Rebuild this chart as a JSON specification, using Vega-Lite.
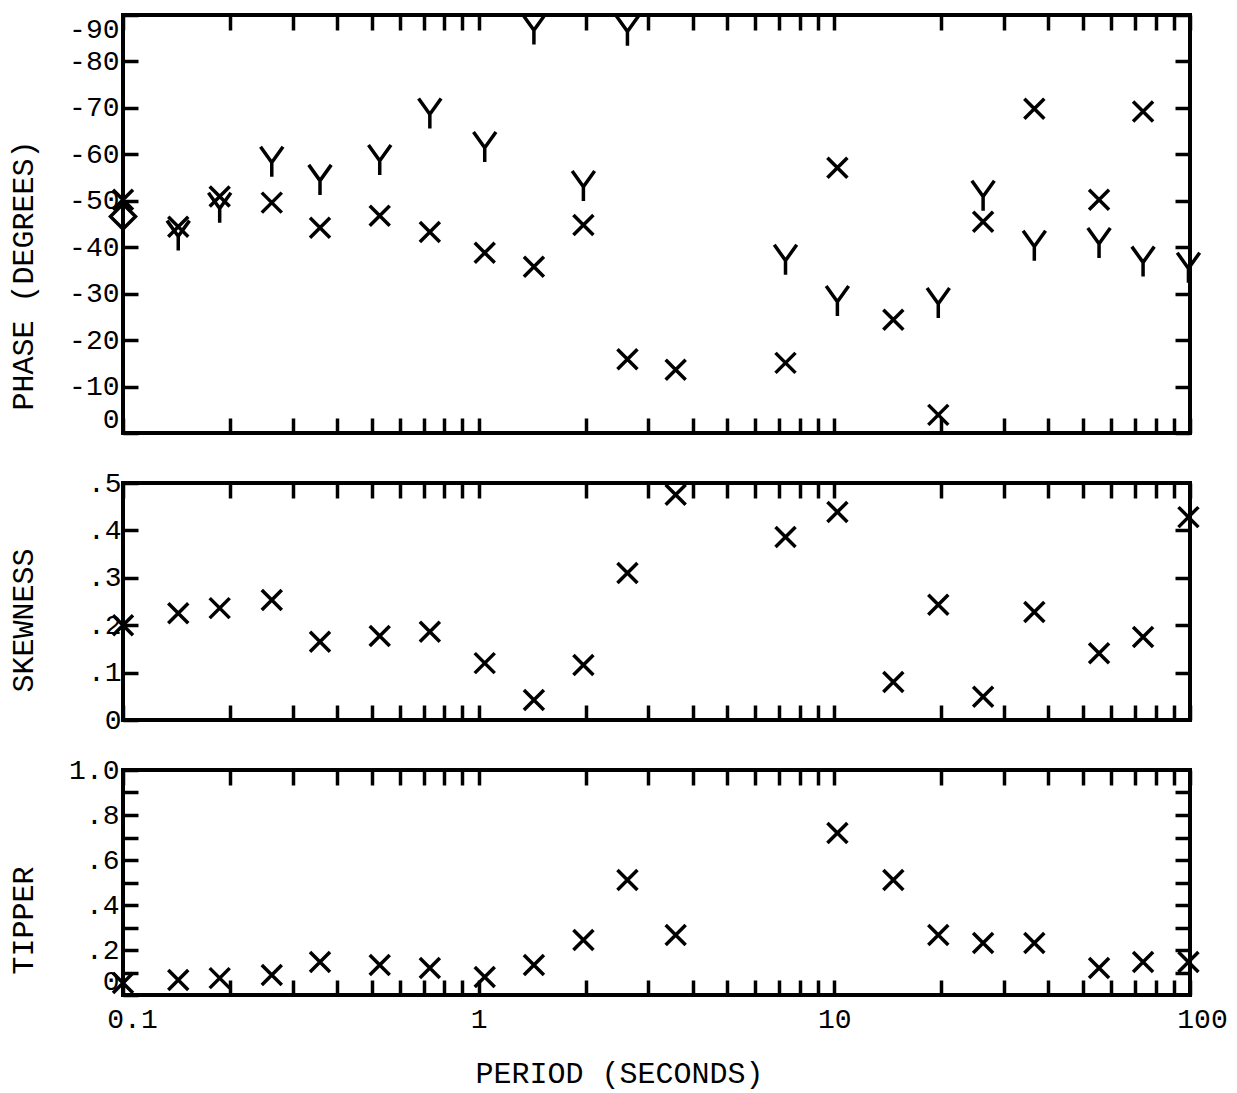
{
  "$schema": "https://vega.github.io/schema/vega-lite/v6.json",
  "background": "white",
  "padding": {"left": 5, "top": 5, "right": 5, "bottom": 5},
  "bounds": "flush",
  "spacing": 50,
  "config": {
    "view": {"stroke": "black", "strokeWidth": 4},
    "axis": {
      "domain": false, "grid": false,
      "tickColor": "black", "tickWidth": 3.5, "tickSize": -15,
      "labelFont": "Liberation Mono", "labelFontSize": 28, "labelColor": "black",
      "titleFont": "Liberation Mono", "titleFontSize": 30, "titleFontWeight": "normal", "titleColor": "black"
    }
  },
  "datasets": {
    "phase": [
      {"period": 0.1, "phase": -50.2, "comp": "X"},
      {"period": 0.143, "phase": -44.4, "comp": "X"},
      {"period": 0.187, "phase": -50.9, "comp": "X"},
      {"period": 0.262, "phase": -49.6, "comp": "X"},
      {"period": 0.358, "phase": -44.2, "comp": "X"},
      {"period": 0.527, "phase": -46.8, "comp": "X"},
      {"period": 0.729, "phase": -43.3, "comp": "X"},
      {"period": 1.04, "phase": -38.8, "comp": "X"},
      {"period": 1.43, "phase": -35.8, "comp": "X"},
      {"period": 1.97, "phase": -44.8, "comp": "X"},
      {"period": 2.62, "phase": -15.9, "comp": "X"},
      {"period": 3.58, "phase": -13.6, "comp": "X"},
      {"period": 7.29, "phase": -15.1, "comp": "X"},
      {"period": 10.2, "phase": -57.1, "comp": "X"},
      {"period": 14.65, "phase": -24.4, "comp": "X"},
      {"period": 19.6, "phase": -3.9, "comp": "X"},
      {"period": 26.2, "phase": -45.5, "comp": "X"},
      {"period": 36.5, "phase": -69.8, "comp": "X"},
      {"period": 55.5, "phase": -50.2, "comp": "X"},
      {"period": 73.8, "phase": -69.2, "comp": "X"},
      {"period": 0.143, "phase": -42.5, "comp": "Y"},
      {"period": 0.187, "phase": -48.5, "comp": "Y"},
      {"period": 0.262, "phase": -58.4, "comp": "Y"},
      {"period": 0.358, "phase": -54.5, "comp": "Y"},
      {"period": 0.527, "phase": -58.8, "comp": "Y"},
      {"period": 0.729, "phase": -68.8, "comp": "Y"},
      {"period": 1.04, "phase": -61.6, "comp": "Y"},
      {"period": 1.43, "phase": -86.9, "comp": "Y"},
      {"period": 1.97, "phase": -53.2, "comp": "Y"},
      {"period": 2.62, "phase": -86.6, "comp": "Y"},
      {"period": 7.29, "phase": -37.3, "comp": "Y"},
      {"period": 10.2, "phase": -28.4, "comp": "Y"},
      {"period": 19.6, "phase": -28.0, "comp": "Y"},
      {"period": 26.2, "phase": -51.1, "comp": "Y"},
      {"period": 36.5, "phase": -40.3, "comp": "Y"},
      {"period": 55.5, "phase": -40.9, "comp": "Y"},
      {"period": 73.8, "phase": -36.9, "comp": "Y"},
      {"period": 99, "phase": -35.6, "comp": "Y"},
      {"period": 0.1, "phase": -46.6, "comp": "D"}
    ],
    "skew": [
      {"period": 0.1, "skewness": 0.2},
      {"period": 0.143, "skewness": 0.225},
      {"period": 0.187, "skewness": 0.236},
      {"period": 0.262, "skewness": 0.253},
      {"period": 0.358, "skewness": 0.165},
      {"period": 0.527, "skewness": 0.177},
      {"period": 0.729, "skewness": 0.186},
      {"period": 1.04, "skewness": 0.12},
      {"period": 1.43, "skewness": 0.042},
      {"period": 1.97, "skewness": 0.116},
      {"period": 2.62, "skewness": 0.31},
      {"period": 3.58, "skewness": 0.475},
      {"period": 7.29, "skewness": 0.386},
      {"period": 10.2, "skewness": 0.439},
      {"period": 14.65, "skewness": 0.08},
      {"period": 19.6, "skewness": 0.243},
      {"period": 26.2, "skewness": 0.049},
      {"period": 36.5, "skewness": 0.228},
      {"period": 55.5, "skewness": 0.141},
      {"period": 73.8, "skewness": 0.175},
      {"period": 99, "skewness": 0.428}
    ],
    "tipper": [
      {"period": 0.1, "tipper": 0.053},
      {"period": 0.143, "tipper": 0.067},
      {"period": 0.187, "tipper": 0.075},
      {"period": 0.262, "tipper": 0.089},
      {"period": 0.358, "tipper": 0.147},
      {"period": 0.527, "tipper": 0.133},
      {"period": 0.729, "tipper": 0.12},
      {"period": 1.04, "tipper": 0.08},
      {"period": 1.43, "tipper": 0.133},
      {"period": 1.97, "tipper": 0.244},
      {"period": 2.62, "tipper": 0.511},
      {"period": 3.58, "tipper": 0.267},
      {"period": 10.2, "tipper": 0.72},
      {"period": 14.65, "tipper": 0.511},
      {"period": 19.6, "tipper": 0.267},
      {"period": 26.2, "tipper": 0.231},
      {"period": 36.5, "tipper": 0.231},
      {"period": 55.5, "tipper": 0.12},
      {"period": 73.8, "tipper": 0.147},
      {"period": 99, "tipper": 0.147}
    ]
  },
  "vconcat": [
    {
      "width": 1067, "height": 418,
      "data": {"name": "phase"},
      "layer": [
        {
          "transform": [{"filter": "datum.comp == 'X'"}],
          "mark": {"type": "point", "shape": "M-1,-1L1,1M-1,1L1,-1", "size": 400, "filled": false, "stroke": "black", "strokeWidth": 3.5, "opacity": 1},
          "encoding": {
            "x": {"field": "period", "type": "quantitative", "scale": {"type": "log", "domain": [0.1, 100], "nice": false},
              "axis": {"orient": "bottom", "title": null, "labels": false, "values": [0.1,0.2,0.3,0.4,0.5,0.6,0.7,0.8,0.9,1,2,3,4,5,6,7,8,9,10,20,30,40,50,60,70,80,90,100]}},
            "y": {"field": "phase", "type": "quantitative", "scale": {"domain": [-90, 0], "reverse": true, "nice": false, "zero": false},
              "axis": {"orient": "left", "values": [0,-10,-20,-30,-40,-50,-60,-70,-80,-90], "labelExpr": "'' + datum.value", "labelFlush": true, "labelPadding": 19,
                "title": "PHASE (DEGREES)", "titleX": -100, "titleY": 260, "titleAlign": "center", "titleBaseline": "middle"}}
          }
        },
        {
          "transform": [{"filter": "datum.comp == 'Y'"}],
          "mark": {"type": "point", "shape": "M-0.75,-1L0,0.05L0.75,-1M0,0.05L0,1", "size": 900, "filled": false, "stroke": "black", "strokeWidth": 3.5, "opacity": 1},
          "encoding": {
            "x": {"field": "period", "type": "quantitative", "axis": null},
            "y": {"field": "phase", "type": "quantitative", "axis": null}
          }
        },
        {
          "transform": [{"filter": "datum.comp == 'D'"}],
          "mark": {"type": "point", "shape": "diamond", "size": 625, "filled": false, "stroke": "black", "strokeWidth": 3.5, "opacity": 1},
          "encoding": {
            "x": {"field": "period", "type": "quantitative", "axis": null},
            "y": {"field": "phase", "type": "quantitative", "axis": null}
          }
        },
        {
          "mark": {"type": "point", "opacity": 0},
          "encoding": {
            "x": {"field": "period", "type": "quantitative",
              "axis": {"orient": "top", "title": null, "labels": false, "values": [0.1,0.2,0.3,0.4,0.5,0.6,0.7,0.8,0.9,1,2,3,4,5,6,7,8,9,10,20,30,40,50,60,70,80,90,100]}},
            "y": {"field": "phase", "type": "quantitative",
              "axis": {"orient": "right", "title": null, "labels": false, "values": [0,-10,-20,-30,-40,-50,-60,-70,-80,-90]}}
          }
        }
      ],
      "resolve": {"axis": {"x": "independent", "y": "independent"}}
    },
    {
      "width": 1067, "height": 237,
      "data": {"name": "skew"},
      "layer": [
        {
          "mark": {"type": "point", "shape": "M-1,-1L1,1M-1,1L1,-1", "size": 400, "filled": false, "stroke": "black", "strokeWidth": 3.5, "opacity": 1},
          "encoding": {
            "x": {"field": "period", "type": "quantitative", "scale": {"type": "log", "domain": [0.1, 100], "nice": false},
              "axis": {"orient": "bottom", "title": null, "labels": false, "values": [0.1,0.2,0.3,0.4,0.5,0.6,0.7,0.8,0.9,1,2,3,4,5,6,7,8,9,10,20,30,40,50,60,70,80,90,100]}},
            "y": {"field": "skewness", "type": "quantitative", "scale": {"domain": [0, 0.5], "nice": false},
              "axis": {"orient": "left", "values": [0,0.1,0.2,0.3,0.4,0.5], "labelExpr": "datum.value == 0 ? '0' : replace('' + datum.value, '0.', '.')", "labelFlush": false, "labelPadding": 17,
                "title": "SKEWNESS", "titleX": -100, "titleY": 137, "titleAlign": "center", "titleBaseline": "middle"}}
          }
        },
        {
          "mark": {"type": "point", "opacity": 0},
          "encoding": {
            "x": {"field": "period", "type": "quantitative",
              "axis": {"orient": "top", "title": null, "labels": false, "values": [0.1,0.2,0.3,0.4,0.5,0.6,0.7,0.8,0.9,1,2,3,4,5,6,7,8,9,10,20,30,40,50,60,70,80,90,100]}},
            "y": {"field": "skewness", "type": "quantitative",
              "axis": {"orient": "right", "title": null, "labels": false, "values": [0.1,0.2,0.3,0.4]}}
          }
        }
      ],
      "resolve": {"axis": {"x": "independent", "y": "independent"}}
    },
    {
      "width": 1067, "height": 225,
      "data": {"name": "tipper"},
      "layer": [
        {
          "mark": {"type": "point", "shape": "M-1,-1L1,1M-1,1L1,-1", "size": 400, "filled": false, "stroke": "black", "strokeWidth": 3.5, "opacity": 1},
          "encoding": {
            "x": {"field": "period", "type": "quantitative", "scale": {"type": "log", "domain": [0.1, 100], "nice": false},
              "axis": {"orient": "bottom", "values": [0.1,0.2,0.3,0.4,0.5,0.6,0.7,0.8,0.9,1,2,3,4,5,6,7,8,9,10,20,30,40,50,60,70,80,90,100],
                "labelExpr": "datum.value == 0.1 ? '0.1' : datum.value == 1 ? '1' : datum.value == 10 ? '10' : datum.value == 100 ? '100' : ''",
                "labelOffset": {"condition": [{"test": "datum.value == 0.1", "value": 9}, {"test": "datum.value == 100", "value": 12}], "value": 0},
                "labelFlush": false, "labelOverlap": false, "labelBaseline": "top", "labelPadding": 25,
                "title": "PERIOD (SECONDS)", "titleX": 496, "titleY": 78, "titleAlign": "center", "titleBaseline": "middle"}},
            "y": {"field": "tipper", "type": "quantitative", "scale": {"domain": [0, 1], "nice": false},
              "axis": {"orient": "left", "values": [0,0.1,0.2,0.3,0.4,0.5,0.6,0.7,0.8,0.9,1], "labelOverlap": false,
                "labelExpr": "datum.value == 0 ? '0' : datum.value == 1 ? '1.0' : (round(datum.value * 10) % 2 == 0 ? replace('' + datum.value, '0.', '.') : '')",
                "labelBaseline": {"condition": {"test": "datum.value == 0", "value": "bottom"}, "value": "middle"},
                "labelFlush": false, "labelPadding": 19,
                "title": "TIPPER", "titleX": -100, "titleY": 150, "titleAlign": "center", "titleBaseline": "middle"}}
          }
        },
        {
          "mark": {"type": "point", "opacity": 0},
          "encoding": {
            "x": {"field": "period", "type": "quantitative",
              "axis": {"orient": "top", "title": null, "labels": false, "values": [0.1,0.2,0.3,0.4,0.5,0.6,0.7,0.8,0.9,1,2,3,4,5,6,7,8,9,10,20,30,40,50,60,70,80,90,100]}},
            "y": {"field": "tipper", "type": "quantitative",
              "axis": {"orient": "right", "title": null, "labels": false, "values": [0.1,0.2,0.3,0.4,0.5,0.6,0.7,0.8,0.9]}}
          }
        }
      ],
      "resolve": {"axis": {"x": "independent", "y": "independent"}}
    }
  ]
}
